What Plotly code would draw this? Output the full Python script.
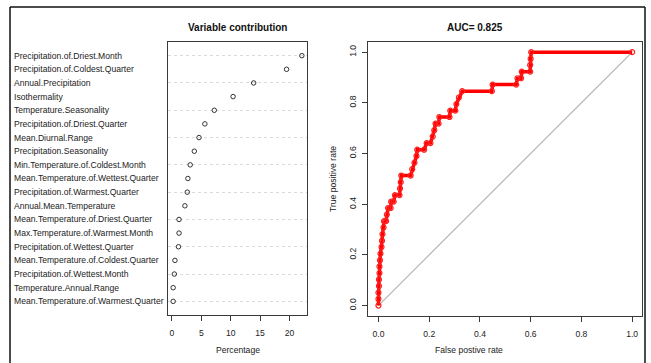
import plotly.graph_objects as go

# ---------------- data ----------------
variables = [
    "Precipitation.of.Driest.Month",
    "Precipitation.of.Coldest.Quarter",
    "Annual.Precipitation",
    "Isothermality",
    "Temperature.Seasonality",
    "Precipitation.of.Driest.Quarter",
    "Mean.Diurnal.Range",
    "Precipitation.Seasonality",
    "Min.Temperature.of.Coldest.Month",
    "Mean.Temperature.of.Wettest.Quarter",
    "Precipitation.of.Warmest.Quarter",
    "Annual.Mean.Temperature",
    "Mean.Temperature.of.Driest.Quarter",
    "Max.Temperature.of.Warmest.Month",
    "Precipitation.of.Wettest.Quarter",
    "Mean.Temperature.of.Coldest.Quarter",
    "Precipitation.of.Wettest.Month",
    "Temperature.Annual.Range",
    "Mean.Temperature.of.Warmest.Quarter",
]
contribution = [22.1, 19.5, 13.9, 10.4, 7.2, 5.6, 4.6, 3.8, 3.1, 2.7,
                2.6, 2.2, 1.2, 1.2, 1.1, 0.5, 0.4, 0.2, 0.2]

pct_ticks = [0, 5, 10, 15, 20]

fpr = [0.000, 0.000, 0.000, 0.002, 0.002, 0.004, 0.004, 0.006, 0.008, 0.012,
       0.014, 0.016, 0.020, 0.022, 0.030, 0.033, 0.038, 0.048, 0.050, 0.060,
       0.065, 0.083, 0.085, 0.088, 0.090, 0.127, 0.133, 0.142, 0.150, 0.153,
       0.180, 0.190, 0.205, 0.214, 0.220, 0.225, 0.237, 0.240, 0.280, 0.283,
       0.303, 0.307, 0.317, 0.330, 0.447, 0.450, 0.543, 0.548, 0.562, 0.565,
       0.598, 0.598, 0.600, 0.602, 1.000]
tpr = [0.000, 0.026, 0.051, 0.077, 0.103, 0.128, 0.154, 0.179, 0.205, 0.231,
       0.256, 0.282, 0.308, 0.333, 0.333, 0.359, 0.385, 0.385, 0.410, 0.410,
       0.436, 0.436, 0.462, 0.487, 0.513, 0.513, 0.538, 0.564, 0.590, 0.615,
       0.615, 0.641, 0.641, 0.667, 0.692, 0.718, 0.718, 0.744, 0.744, 0.769,
       0.769, 0.795, 0.821, 0.846, 0.846, 0.872, 0.872, 0.897, 0.897, 0.923,
       0.923, 0.949, 0.974, 1.000, 1.000]

diag_x = [0, 1]
diag_y = [0, 1]
roc_ticks = [0.0, 0.2, 0.4, 0.6, 0.8, 1.0]
roc_tick_text = ["0.0", "0.2", "0.4", "0.6", "0.8", "1.0"]

left_title = "Variable contribution"
right_title = "AUC= 0.825"
left_xlabel = "Percentage"
right_xlabel = "False postive rate"
right_ylabel = "True positive rate"

# ---------------- layout helpers ----------------
W, H = 651, 363
FONT = "Liberation Sans, Arial, sans-serif"
AX = "#3a3a3a"


def px_x(x):
    return x / W


def px_y(y):
    return (H - y) / H


fig = go.Figure()

# dot chart
fig.add_trace(go.Scatter(
    x=contribution, y=variables, mode="markers",
    marker=dict(symbol="circle-open", size=4.5, color="#333333",
                line=dict(width=1, color="#333333")),
    xaxis="x", yaxis="y", showlegend=False, hoverinfo="x+y",
))

# diagonal
fig.add_trace(go.Scatter(
    x=diag_x, y=diag_y, mode="lines",
    line=dict(color="#b5b5b5", width=1.2),
    xaxis="x2", yaxis="y2", showlegend=False,
))
# ROC curve
fig.add_trace(go.Scatter(
    x=fpr, y=tpr, mode="lines+markers",
    line=dict(color="#ff0000", width=3.5),
    marker=dict(symbol="circle-open", size=5, color="#ff2020",
                line=dict(width=1.2, color="#ff2020")),
    xaxis="x2", yaxis="y2", showlegend=False,
))

common_axis = dict(
    showline=True, mirror=True, linecolor=AX, linewidth=1,
    ticks="outside", ticklen=5, tickcolor=AX, tickwidth=1,
    zeroline=False, showgrid=False,
    tickfont=dict(family=FONT, size=8.6, color="#222222"),
)

fig.update_layout(
    width=W, height=H,
    margin=dict(l=0, r=0, t=0, b=0),
    paper_bgcolor="white", plot_bgcolor="white",
    font=dict(family=FONT, color="#222222"),
    xaxis=dict(common_axis, domain=[px_x(168), px_x(307)],
               range=[-0.68, 22.98], tickmode="array", tickvals=pct_ticks,
               ticklabelstandoff=5, anchor="y"),
    yaxis=dict(showline=True, mirror=True, linecolor=AX, linewidth=1,
               zeroline=False, ticks="", showticklabels=False,
               type="category", categoryorder="array",
               categoryarray=variables[::-1], range=[-1, len(variables)],
               showgrid=True, gridcolor="#dadada", griddash="dot", gridwidth=1,
               domain=[px_y(315), px_y(42)], anchor="x"),
    xaxis2=dict(common_axis, domain=[px_x(368.3), px_x(642.3)],
                range=[-0.04, 1.04], tickmode="array", tickvals=roc_ticks,
                ticktext=roc_tick_text, ticklabelstandoff=5, anchor="y2"),
    yaxis2=dict(common_axis, domain=[px_y(315.7), px_y(42)],
                range=[-0.04, 1.04], tickmode="array", tickvals=roc_ticks,
                ticktext=roc_tick_text, tickangle=-90, ticklabelstandoff=3,
                anchor="x2"),
)

ann = []
for v in variables:
    ann.append(dict(x=px_x(12), xref="paper", y=v, yref="y", text=v,
                    showarrow=False, xanchor="left", yanchor="middle",
                    font=dict(family=FONT, size=8.6, color="#222222")))
ann += [
    dict(x=px_x(237.5), y=px_y(20), xref="paper", yref="paper", text="<b>" + left_title + "</b>",
         showarrow=False, font=dict(family=FONT, size=10, color="#111111")),
    dict(x=px_x(505), y=px_y(20), xref="paper", yref="paper", text="<b>" + right_title + "</b>",
         showarrow=False, font=dict(family=FONT, size=10, color="#111111")),
    dict(x=px_x(237.5), y=px_y(357), xref="paper", yref="paper", text=left_xlabel,
         showarrow=False, font=dict(family=FONT, size=8.6, color="#222222")),
    dict(x=px_x(505), y=px_y(357), xref="paper", yref="paper", text=right_xlabel,
         showarrow=False, font=dict(family=FONT, size=8.6, color="#222222")),
    dict(x=px_x(333), y=px_y(179), xref="paper", yref="paper", text=right_ylabel,
         textangle=-90, showarrow=False, font=dict(family=FONT, size=8.6, color="#222222")),
]
fig.update_layout(annotations=ann)

# outer frame (left, top, right edges)
frame = dict(type="line", xref="paper", yref="paper", line=dict(color="#111111", width=1.5))
fig.update_layout(shapes=[
    dict(frame, x0=px_x(10), x1=px_x(10), y0=0, y1=px_y(7)),
    dict(frame, x0=px_x(10), x1=px_x(645), y0=px_y(7), y1=px_y(7)),
    dict(frame, x0=px_x(645), x1=px_x(645), y0=0, y1=px_y(7)),
])

fig.write_html("out.html", config={"displayModeBar": False},
               post_script="document.body.style.margin='0';")
